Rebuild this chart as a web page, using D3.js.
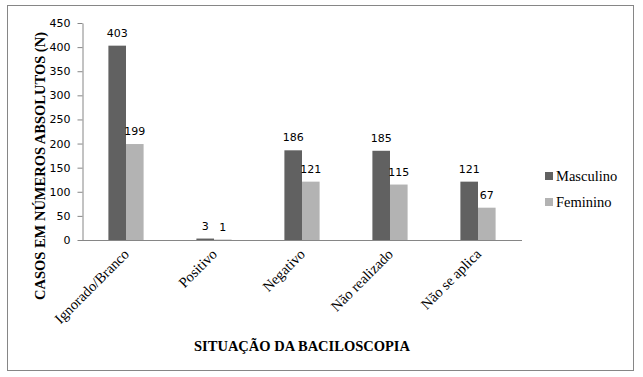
<!DOCTYPE html>
<html><head><meta charset="utf-8">
<script src="https://cdn.jsdelivr.net/npm/d3@7"></script>
<style>body{margin:0;background:#fff}</style>
</head><body>
<svg id="c" width="643" height="377"></svg>
<script>
const categories = ["Ignorado/Branco","Positivo","Negativo","Não realizado","Não se aplica"];
const masculino = [403,3,186,185,121];
const feminino = [199,1,121,115,67];
const seriesNames = ["Masculino","Feminino"];
const yTicks = [0,50,100,150,200,250,300,350,400,450];
const colors = ["#616161","#b3b3b3"];
const serif = "'Liberation Serif', 'Times New Roman', Times, serif";
const sans = "'DejaVu Sans', Verdana, sans-serif";

const svg = d3.select("#c");
svg.append("rect").attr("x",7.5).attr("y",5.5).attr("width",626).attr("height",365)
  .attr("fill","#fff").attr("stroke","#868686").attr("stroke-width",1);

const m = {l:82, r:522, t:23, b:240};
const x = d3.scaleBand().domain(categories).range([m.l,m.r]).paddingInner(0.6).paddingOuter(0.3);
const xs = d3.scaleBand().domain(seriesNames).range([0,x.bandwidth()]);
const y = d3.scaleLinear().domain([0,450]).range([m.b,m.t]);

// y axis
const ya = svg.append("g").attr("transform",`translate(${m.l+0.5},0)`)
  .call(d3.axisLeft(y).tickValues(yTicks).tickSize(5).tickSizeOuter(0).tickPadding(7));
ya.select(".domain").attr("stroke","#868686");
ya.selectAll(".tick line").attr("stroke","#868686");
ya.selectAll(".tick text").attr("font-family",sans).attr("font-size","11px").attr("fill","#000");

const data = categories.map((c,i)=>({c, v:[masculino[i],feminino[i]]}));
const g = svg.append("g");
data.forEach(d=>{
  d.v.forEach((v,j)=>{
    const bx = x(d.c)+xs(seriesNames[j]);
    g.append("rect").attr("x",bx).attr("y",y(v)).attr("width",xs.bandwidth()).attr("height",y(0)-y(v)).attr("fill",colors[j]);
    g.append("text").attr("x",bx+xs.bandwidth()/2).attr("y",y(v)-9).attr("text-anchor","middle")
      .attr("font-family",sans).attr("font-size","11px").text(v);
  });
});

// x axis line
svg.append("line").attr("x1",m.l-4).attr("x2",m.r).attr("y1",m.b+0.5).attr("y2",m.b+0.5).attr("stroke","#868686");

// category labels
categories.forEach(c=>{
  const cx = x(c)+x.bandwidth()/2+4;
  svg.append("text").attr("transform",`translate(${cx},${m.b+15}) rotate(-45)`)
    .attr("text-anchor","end").attr("font-family",serif)
    .attr("font-size","14.5px").text(c);
});

// axis titles
svg.append("text").attr("x",302).attr("y",351).attr("text-anchor","middle")
  .attr("font-family",serif).attr("font-weight","bold").attr("font-size","14.5px")
  .text("SITUAÇÃO DA BACILOSCOPIA");
svg.append("text").attr("transform",`translate(45,32) rotate(-90)`).attr("text-anchor","end")
  .attr("font-family",serif).attr("font-weight","bold").attr("font-size","14.5px")
  .text("CASOS EM NÚMEROS ABSOLUTOS (N)");

// legend
seriesNames.forEach((s,i)=>{
  const ly = 176 + i*26;
  svg.append("rect").attr("x",545).attr("y",ly-4).attr("width",8).attr("height",8).attr("fill",colors[i]);
  svg.append("text").attr("x",556).attr("y",ly+5).attr("font-family",serif)
    .attr("font-size","14.5px").text(s);
});
</script>
</body></html>
